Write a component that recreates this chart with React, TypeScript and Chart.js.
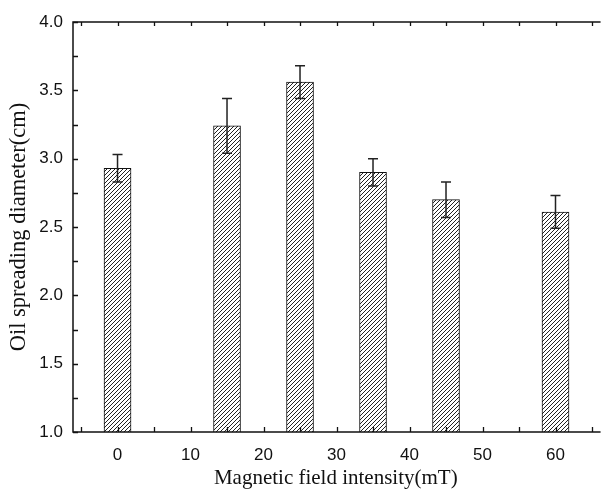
import React, { useEffect, useRef } from "react";
import { Chart, registerables } from "chart.js";

Chart.register(...registerables);

// Data
const magneticField = [0, 15, 25, 35, 45, 60]; // mT
const spreadDiameter = [2.93, 3.24, 3.56, 2.9, 2.7, 2.61]; // cm
const diameterError = [0.1, 0.2, 0.12, 0.1, 0.13, 0.12]; // cm (±)

const xTitle = "Magnetic field intensity(mT)";
const yTitle = "Oil spreading diameter(cm)";

const AXIS_COLOR = "#111";

function makeHatch(ctx: CanvasRenderingContext2D): CanvasPattern | string {
  const c = document.createElement("canvas");
  c.width = 4;
  c.height = 4;
  const g = c.getContext("2d");
  if (!g) return "#fff";
  g.fillStyle = "#fff";
  g.fillRect(0, 0, 4, 4);
  g.strokeStyle = "#222";
  g.lineWidth = 1;
  g.beginPath();
  g.moveTo(-1, 5);
  g.lineTo(5, -1);
  g.moveTo(-1, 1);
  g.lineTo(1, -1);
  g.moveTo(3, 5);
  g.lineTo(5, 3);
  g.stroke();
  return ctx.createPattern(c, "repeat") || "#fff";
}

const framePlugin = {
  id: "frameAndErrors",
  afterDatasetsDraw(chart: any) {
    const { ctx, chartArea, scales } = chart;
    const { left, right, top, bottom } = chartArea;
    const xs = scales.x;
    const ys = scales.y;
    ctx.save();

    // error bars
    ctx.strokeStyle = "#222";
    ctx.lineWidth = 1.5;
    const cap = 5;
    magneticField.forEach((xv, i) => {
      const px = xs.getPixelForValue(xv);
      const hi = ys.getPixelForValue(spreadDiameter[i] + diameterError[i]);
      const lo = ys.getPixelForValue(spreadDiameter[i] - diameterError[i]);
      ctx.beginPath();
      ctx.moveTo(px, hi);
      ctx.lineTo(px, lo);
      ctx.moveTo(px - cap, hi);
      ctx.lineTo(px + cap, hi);
      ctx.moveTo(px - cap, lo);
      ctx.lineTo(px + cap, lo);
      ctx.stroke();
    });

    // frame
    ctx.strokeStyle = AXIS_COLOR;
    ctx.lineWidth = 1.5;
    ctx.beginPath();
    ctx.moveTo(right + 2, top);
    ctx.lineTo(left, top);
    ctx.lineTo(left, bottom);
    ctx.lineTo(right + 2, bottom);
    ctx.stroke();

    // inward ticks
    ctx.lineWidth = 1.3;
    ctx.beginPath();
    xs.ticks.forEach((t: any) => {
      const px = Math.round(xs.getPixelForValue(t.value)) + 0.5;
      ctx.moveTo(px, bottom);
      ctx.lineTo(px, bottom - 5);
      ctx.moveTo(px, top);
      ctx.lineTo(px, top + 4);
    });
    ys.ticks.forEach((t: any) => {
      const py = Math.round(ys.getPixelForValue(t.value)) + 0.5;
      ctx.moveTo(left, py);
      ctx.lineTo(left + 5, py);
    });
    ctx.stroke();
    ctx.restore();
  },
};

export default function App() {
  const ref = useRef<HTMLCanvasElement | null>(null);

  useEffect(() => {
    const canvas = ref.current;
    if (!canvas) return;
    const ctx = canvas.getContext("2d");
    if (!ctx) return;
    const hatch = makeHatch(ctx);

    const chart = new Chart(ctx, {
      type: "bar",
      data: {
        datasets: [
          {
            data: magneticField.map((x, i) => ({ x, y: spreadDiameter[i] })),
            backgroundColor: hatch as any,
            borderColor: "#111",
            borderWidth: 1,
            barThickness: 27,
          },
        ],
      },
      options: {
        responsive: false,
        animation: false,
        devicePixelRatio: 1,
        layout: { padding: { top: 22, right: 0, bottom: 0, left: 0 } },
        plugins: { legend: { display: false }, tooltip: { enabled: false } },
        scales: {
          x: {
            type: "linear",
            offset: false,
            min: -6.1,
            max: 65.9,
            grid: { display: false, drawTicks: false },
            border: { display: false },
            ticks: {
              stepSize: 5,
              autoSkip: false,
              includeBounds: false,
              maxRotation: 0,
              padding: 13,
              color: "#111",
              font: { family: "'Liberation Sans', Arial, sans-serif", size: 17 },
              callback: (v: any) => (Math.abs(v % 10) < 1e-6 ? String(Math.round(v)) : ""),
            },
            title: {
              display: true,
              text: xTitle,
              color: "#111",
              font: { family: "'Liberation Serif', 'Times New Roman', serif", size: 21 },
              padding: { top: 0, bottom: 3 },
            },
            afterFit: (scale: any) => {
              scale.height = 62;
            },
          },
          y: {
            min: 1,
            max: 4,
            grid: { display: false, drawTicks: false },
            border: { display: false },
            ticks: {
              stepSize: 0.25,
              autoSkip: false,
              includeBounds: false,
              padding: 10,
              color: "#111",
              font: { family: "'Liberation Sans', Arial, sans-serif", size: 17 },
              callback: (v: any) =>
                Math.abs(v * 2 - Math.round(v * 2)) < 1e-6 ? Number(v).toFixed(1) : "",
            },
            title: {
              display: true,
              text: yTitle,
              color: "#111",
              font: { family: "'Liberation Serif', 'Times New Roman', serif", size: 22.5 },
              padding: { top: 6, bottom: 0 },
            },
            afterFit: (scale: any) => {
              scale.width = 73;
            },
          },
        },
      },
      plugins: [framePlugin],
    });

    return () => chart.destroy();
  }, []);

  return (
    <div style={{ position: "fixed", left: 0, top: 0, width: 605, height: 494, background: "#fff" }}>
      <canvas ref={ref} width={605} height={494} style={{ display: "block" }} />
    </div>
  );
}
